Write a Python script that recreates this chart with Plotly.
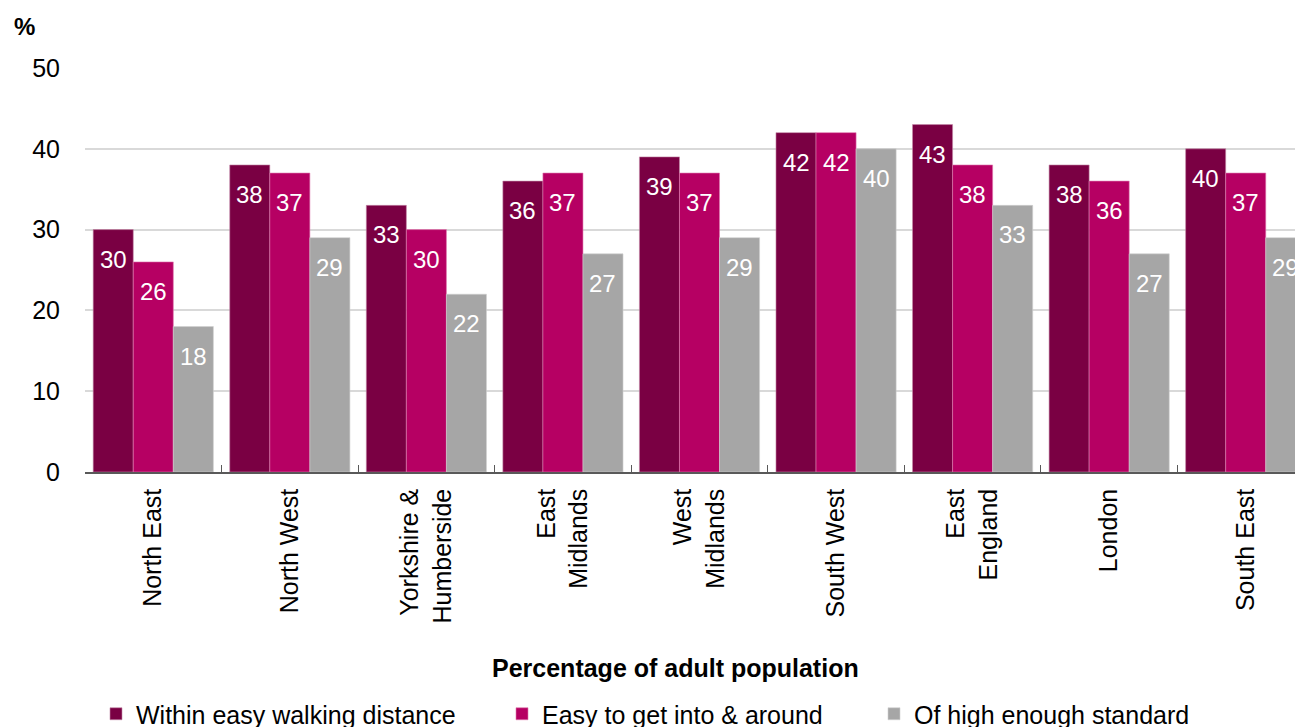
import plotly.graph_objects as go

categories = ["North East", "North West", "Yorkshire &<br>Humberside", "East<br>Midlands",
              "West<br>Midlands", "South West", "East<br>England", "London", "South East"]
walking = [30, 38, 33, 36, 39, 42, 43, 38, 40]
easy_access = [26, 37, 30, 37, 37, 42, 38, 36, 37]
high_standard = [18, 29, 22, 27, 29, 40, 33, 27, 29]
series_names = ["Within easy walking distance", "Easy to get into & around", "Of high enough standard"]
colors = ["#7A0043", "#B60063", "#A6A6A6"]
edge = ["#C48AA8", "#E07BB0", "#D0D0D0"]

FONT = "Liberation Sans, Arial, sans-serif"
W, H = 1295, 727
L, T, B = 85, 68, 255
pw = W - L
ph = H - T - B
cat_px = 136.5
bar_px = cat_px * (1 - 0.12) / 3
legend_ids = ["legend", "legend2", "legend3"]
legend_left_px = [96, 502, 874]

fig = go.Figure()
annotations = []
all_series = [walking, easy_access, high_standard]
for k, (name, vals, c, e) in enumerate(zip(series_names, all_series, colors, edge)):
    fig.add_trace(go.Bar(
        x=categories, y=vals, name=name, legend=legend_ids[k],
        marker=dict(color=c, line=dict(color=e, width=0.6)),
    ))
    for cat, v in zip(categories, vals):
        annotations.append(dict(
            x=cat, y=v, xref="x", yref="y", text=str(v), showarrow=False,
            xanchor="center", yanchor="top", xshift=(k - 1) * bar_px, yshift=-14,
            font=dict(color="white", size=24, family=FONT)))

annotations += [
    dict(text="<b>%</b>", xref="paper", yref="paper", x=(12 - L) / pw, y=(T + ph - 27) / ph,
         xanchor="left", yanchor="middle", showarrow=False, font=dict(size=24, family=FONT)),
    dict(text="<b>Percentage of adult population</b>", xref="paper", yref="paper",
         x=(675 - L) / pw, y=(T + ph - 668) / ph, xanchor="center", yanchor="middle",
         showarrow=False, font=dict(size=25, family=FONT)),
]

legends = {}
for lid, lx in zip(legend_ids, legend_left_px):
    legends[lid] = dict(orientation="h", x=(lx - L) / pw, xanchor="left",
                        y=(T + ph - 714) / ph, yanchor="middle",
                        font=dict(size=25, family=FONT), itemwidth=30,
                        bgcolor="rgba(0,0,0,0)")

fig.update_layout(
    width=W, height=H,
    margin=dict(l=L, r=0, t=T, b=B, autoexpand=False),
    paper_bgcolor="white", plot_bgcolor="white",
    barmode="group", bargap=0.12, bargroupgap=0,
    font=dict(family=FONT, size=25, color="#000000"),
    showlegend=True,
    xaxis=dict(range=[-0.5, 8.5 - (1314 - 1295) / cat_px], showgrid=False,
               showline=True, linecolor="#595959", linewidth=1.5,
               ticks="inside", ticklen=7, tickcolor="#595959", tickson="boundaries",
               tickangle=-90, tickfont=dict(size=25, family=FONT),
               ticklabelstandoff=5, automargin=False),
    yaxis=dict(range=[0, 50], dtick=10, showgrid=True, gridcolor="#D9D9D9", gridwidth=1.5,
               showline=False, zeroline=False, ticks="", tickfont=dict(size=25, family=FONT),
               ticklabelstandoff=24, automargin=False),
    annotations=annotations,
    **legends,
)

fig.write_html("out.html")
